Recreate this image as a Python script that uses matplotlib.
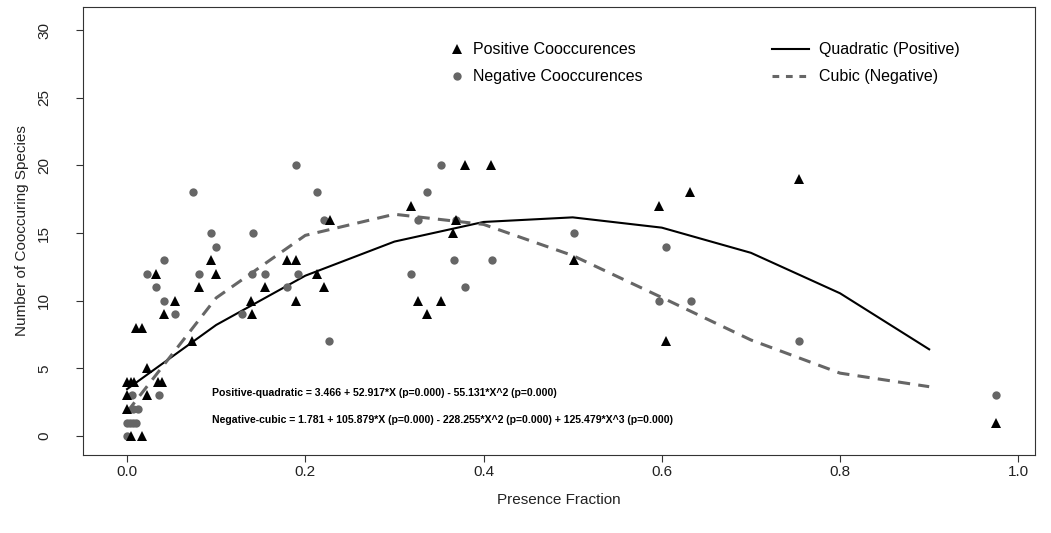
import matplotlib
matplotlib.use('Agg')
import matplotlib.pyplot as plt
from matplotlib.lines import Line2D

plt.rcParams['font.family'] = ['Liberation Sans', 'DejaVu Sans']

# positive cooccurences (triangles)
pos_x = [0.0, 0.004, 0.008, 0.035, 0.039, 0.010, 0.017, 0.022, 0.0, 0.022, 0.0, 0.004, 0.017,
         0.033, 0.042, 0.054, 0.073, 0.081, 0.094, 0.100, 0.139, 0.140, 0.155, 0.180, 0.190,
         0.190, 0.213, 0.221, 0.228, 0.319, 0.327, 0.337, 0.352, 0.366, 0.369, 0.379, 0.408,
         0.502, 0.597, 0.605, 0.632, 0.754, 0.975]
pos_y = [4, 4, 4, 4, 4, 8, 8, 5, 3, 3, 2, 0, 0,
         12, 9, 10, 7, 11, 13, 12, 10, 9, 11, 13, 13,
         10, 12, 11, 16, 17, 10, 9, 10, 15, 16, 20, 20,
         13, 17, 7, 18, 19, 1]

# negative cooccurences (circles)
neg_x = [0.0, 0.0, 0.003, 0.007, 0.010, 0.007, 0.012, 0.005, 0.036,
         0.022, 0.033, 0.041, 0.042, 0.054, 0.074, 0.081, 0.094, 0.100, 0.129, 0.140,
         0.141, 0.155, 0.180, 0.190, 0.192, 0.213, 0.221, 0.227, 0.319, 0.327, 0.337,
         0.352, 0.367, 0.369, 0.379, 0.409, 0.502, 0.597, 0.605, 0.633, 0.754, 0.975]
neg_y = [0, 1, 1, 1, 1, 2, 2, 3, 3,
         12, 11, 10, 13, 9, 18, 12, 15, 14, 9, 12,
         15, 12, 11, 20, 12, 18, 16, 7, 12, 16, 18,
         20, 13, 16, 11, 13, 15, 10, 14, 10, 7, 3]

# fitted curves read at x = 0, 0.1, ..., 0.9
fit_x = [0.0, 0.1, 0.2, 0.3, 0.4, 0.5, 0.6, 0.7, 0.8, 0.9]
quad_y = [3.47, 8.21, 11.85, 14.37, 15.82, 16.16, 15.40, 13.54, 10.55, 6.41]
cubic_y = [1.78, 10.21, 14.83, 16.39, 15.64, 13.34, 10.24, 7.10, 4.65, 3.65]

eq_pos = 'Positive-quadratic = 3.466 + 52.917*X (p=0.000) - 55.131*X^2 (p=0.000)'
eq_neg = 'Negative-cubic = 1.781 + 105.879*X (p=0.000) - 228.255*X^2 (p=0.000) + 125.479*X^3 (p=0.000)'

grey = '#666666'

fig = plt.figure(figsize=(10.51, 5.33), dpi=100)
ax = fig.add_axes([0.079, 0.1463, 0.906, 0.8405])

ax.plot(neg_x, neg_y, 'o', color=grey, markersize=6, markeredgewidth=0, zorder=3)
ax.plot(pos_x, pos_y, '^', color='black', markersize=6.5, markeredgewidth=0, zorder=3)
ax.plot(fit_x, quad_y, '-', color='black', lw=1.5, zorder=2)
ax.plot(fit_x, cubic_y, color=grey, lw=2.2, dashes=(4, 2.7), zorder=2)

ax.text(0.095, 3.2, eq_pos, fontsize=7.6, fontweight='bold', ha='left', va='center')
ax.text(0.095, 1.2, eq_neg, fontsize=7.6, fontweight='bold', ha='left', va='center')

ax.set_xlim(-0.0494, 1.019)
ax.set_ylim(-1.4, 31.7)
ax.set_xticks([0.0, 0.2, 0.4, 0.6, 0.8, 1.0])
ax.set_xticklabels(['0.0', '0.2', '0.4', '0.6', '0.8', '1.0'])
ax.set_yticks([0, 5, 10, 15, 20, 25, 30])
ax.tick_params(axis='both', labelsize=11, length=5, width=0.8, color='#333333',
               labelcolor='#222222')
ax.tick_params(axis='x', pad=2)
ax.tick_params(axis='y', pad=18)
for lab in ax.get_yticklabels():
    lab.set_rotation(90)
    lab.set_va('center')
for sp in ax.spines.values():
    sp.set_color('#333333')
    sp.set_linewidth(0.8)

ax.set_xlabel('Presence Fraction', fontsize=11, labelpad=10, color='#222222')
ax.set_ylabel('Number of Cooccuring Species', fontsize=11, labelpad=6, color='#222222')

h1 = [Line2D([], [], marker='^', color='black', ls='none', markersize=6.5, markeredgewidth=0),
      Line2D([], [], marker='o', color=grey, ls='none', markersize=6, markeredgewidth=0)]
leg1 = ax.legend(h1, ['Positive Cooccurences', 'Negative Cooccurences'], loc='upper left',
                 bbox_to_anchor=(0.384, 0.921), frameon=False, fontsize=11.5, handlelength=1.0,
                 handletextpad=0.5, labelspacing=0.75, borderpad=0, borderaxespad=0)
ax.add_artist(leg1)

h2 = [Line2D([], [], color='black', lw=1.5),
      Line2D([], [], color=grey, lw=2.2, dashes=(2.2, 2.2))]
ax.legend(h2, ['Quadratic (Positive)', 'Cubic (Negative)'], loc='upper left',
          bbox_to_anchor=(0.724, 0.921), frameon=False, fontsize=11.5, handlelength=2.3,
          handletextpad=0.6, labelspacing=0.75, borderpad=0, borderaxespad=0)

plt.savefig('out.png', dpi=100)
